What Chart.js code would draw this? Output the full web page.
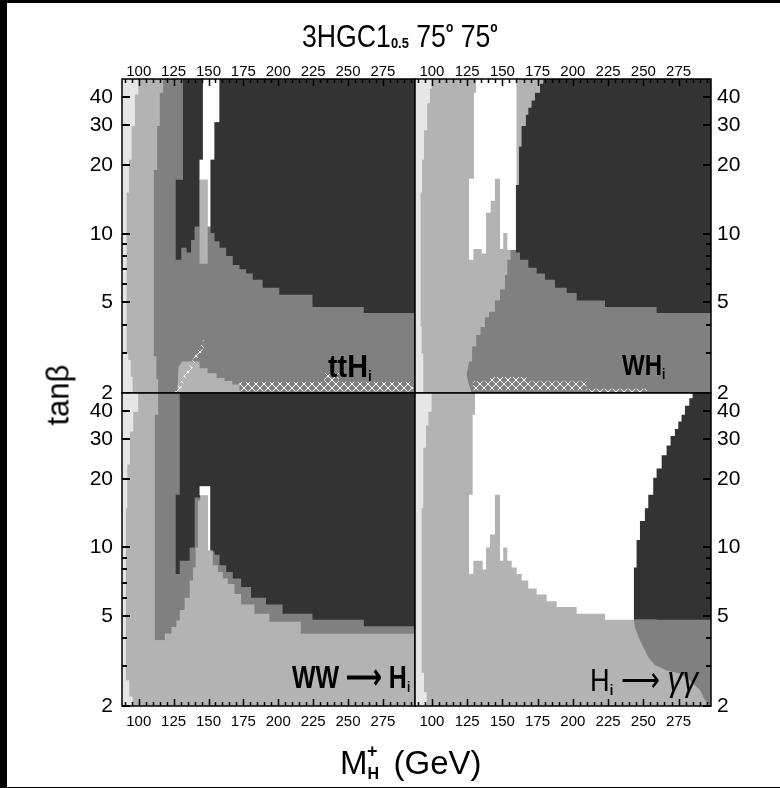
<!DOCTYPE html>
<html>
<head>
<meta charset="utf-8">
<script src="https://cdn.jsdelivr.net/npm/chart.js@4.4.0/dist/chart.umd.min.js"></script>
<style>
  body { margin: 0; background: #000; }
  #page { position: relative; width: 780px; height: 788px; overflow: hidden; background: #000; }
  #sheet { position: absolute; left: 7px; top: 3px; right: 0; height: 784px; background: #fff; }
  canvas { position: absolute; left: 0; top: 0; }
  .lbl { position: absolute; white-space: nowrap; line-height: 1; color: #000;
         font-family: "Liberation Sans", Arial, sans-serif; transform-origin: 0 0; }
  .sb { font-size: 15px; font-weight: bold; position: relative; top: 4px; }
  .deg { font-size: 14px; font-weight: bold; position: relative; top: -15px; }
</style>
</head>
<body>
<div id="page">
  <div id="sheet"></div>
  <canvas id="cTL" width="780" height="788"></canvas>
  <canvas id="cTR" width="780" height="788"></canvas>
  <canvas id="cBL" width="780" height="788"></canvas>
  <canvas id="cBR" width="780" height="788"></canvas>

  <div class="lbl" style="left:302px;top:21px;font-size:31px;transform:scaleX(.86)">3HGC1<span style="font-size:15px;font-weight:bold;position:relative;top:1px">0.5</span> 75<span class="deg">o</span> 75<span class="deg">o</span></div>
  <div class="lbl" style="left:58px;top:395px;font-size:31px;transform-origin:50% 50%;transform:translate(-50%,-50%) rotate(-90deg)">tanβ</div>
  <div class="lbl" style="left:340px;top:746px;font-size:33px">M<span style="font-size:16px;font-weight:bold;position:relative;top:5px">H</span><span style="font-size:18px;font-weight:bold;position:relative;top:-17px;margin-left:-12px">+</span><span style="margin-left:16px">(GeV)</span></div>

  <div class="lbl" style="left:328px;top:350px;font-size:32px;font-weight:bold;transform:scaleX(.9)">ttH<span class="sb">i</span></div>
  <div class="lbl" style="left:622px;top:350px;font-size:30px;font-weight:bold;transform:scaleX(.8)">WH<span class="sb">i</span></div>
  <div class="lbl" style="left:292px;top:661px;font-size:32px;font-weight:bold;transform:scaleX(.78)">WW ⟶ H<span class="sb">i</span></div>
  <div class="lbl" style="left:590px;top:661px;font-size:32px;transform:scaleX(.85)">H<span class="sb">i</span> ⟶ <i style="font-size:36px">γγ</i></div>
</div>

<script>
// axis ranges and tick labels
const massMin = 88, massMax = 298;
const tanbMin = 2, tanbMax = 48;
const massTicks = [100, 125, 150, 175, 200, 225, 250, 275];
const tanbTicks = [2, 5, 10, 20, 30, 40];
const tanbMinorTicks = [3, 4, 6, 7, 8, 9];

// grey levels of the plot
const shade = { light: '#b3b3b3', mid: '#808080', dark: '#333333', white: '#ffffff' };
const paleShade = '#e6e6e6';

// region outlines, points are [M_H+ (GeV), tan beta]
// ttH panel
const ttH_light = [[95.6,1.9],[95.6,2.36],[94.2,2.36],[94.2,2.79],[92.5,2.79],[92.5,2.98],[91.3,2.98],[91.3,15.2],[93,15.2],[93,21.2],[94.9,21.2],[94.9,29.8],[97.3,29.8],[97.3,41],[99.7,41],[99.7,50],[300,50],[300,1.9]];
const ttH_mid = [[113.9,1.9],[113.9,2.3],[112.7,2.3],[112.7,2.9],[110.8,2.9],[110.8,19.1],[113.2,19.1],[113.2,29.8],[115.1,29.8],[115.1,41.8],[117.5,41.8],[117.5,50],[300,50],[300,1.9]];
const ttH_lowLight = [[127.5,1.9],[128.5,2.6],[131,2.75],[143.6,2.75],[143.6,2.57],[149.3,2.57],[149.3,2.44],[155.8,2.44],[155.8,2.33],[161.5,2.33],[161.5,2.26],[167,2.26],[167,2.18],[172.2,2.18],[172.2,1.9]];
const ttH_darkLeft = [[126.5,7.7],[126.5,17.3],[131.7,17.3],[131.7,50],[146,50],[146,21.2],[143.6,21.2],[143.6,10.8],[140,10.8],[140,9.4],[137.5,9.4],[137.5,8.3],[134.3,8.3],[134.3,8.7],[130.5,8.7],[130.5,7.7]];
const ttH_spike = [[143.6,7.4],[143.6,17.3],[149.4,17.3],[149.4,7.4]];
const ttH_white = [[146,50],[157.9,50],[157.9,31],[154.3,31],[154.3,21.2],[151.5,21.2],[151.5,10.8],[149.4,10.8],[149.4,17.3],[143.6,17.3],[143.6,21.2],[146,21.2]];
const ttH_darkRight = [[157.9,50],[157.9,31],[154.3,31],[154.3,21.2],[151.5,21.2],[151.5,10.1],[154.3,10.1],[154.3,9.3],[157.9,9.3],[157.9,8.7],[162.7,8.7],[162.7,8.0],[167.4,8.0],[167.4,7.3],[172.2,7.3],[172.2,7.0],[177,7.0],[177,6.7],[181.7,6.7],[181.7,6.3],[188.8,6.3],[188.8,5.8],[200.7,5.8],[200.7,5.4],[224.5,5.4],[224.5,4.77],[261.3,4.77],[261.3,4.5],[300,4.5],[300,50]];
const ttH_hatch = [[172.2,2.03],[172.2,2.24],[233,2.24],[233,2.44],[243.5,2.44],[243.5,2.24],[296.5,2.24],[296.5,2.03]];
const ttH_hatchDiag = [[126,2.02],[128.5,2.02],[148.2,3.3],[146.5,3.42]];

// WH panel
const WH_light = [[93.9,1.9],[93.9,2.98],[92.7,2.98],[92.7,3.92],[92,3.92],[92,15.2],[93,15.2],[93,21.2],[94.4,21.2],[94.4,28.6],[96.7,28.6],[96.7,37.6],[98.6,37.6],[98.6,43.5],[99.8,43.5],[99.8,50],[300,50],[300,1.9]];
const WH_mid = [[129.4,1.9],[126,2.2],[124.6,2.42],[126.5,2.75],[128.5,2.75],[128.5,3.2],[131.5,3.2],[131.5,3.6],[134.5,3.6],[134.5,3.9],[137.6,3.9],[137.6,4.3],[140.5,4.3],[140.5,4.55],[144.7,4.55],[144.7,5.1],[148.3,5.1],[148.3,5.7],[151.8,5.7],[151.8,6.6],[153.5,6.6],[153.5,7.7],[155.8,7.7],[155.8,8.6],[159.6,8.6],[159.6,12],[300,12],[300,1.9]];
const WH_white = [[131.3,50],[131.3,41.8],[129.8,41.8],[129.8,17.5],[126.3,17.5],[126.3,7.7],[129.4,7.7],[129.4,8.6],[135.3,8.6],[135.3,8.2],[138.4,8.2],[138.4,12.4],[141.7,12.4],[141.7,14],[144.7,14],[144.7,17.5],[148.3,17.5],[148.3,8.6],[150.6,8.6],[150.6,10.1],[153.5,10.1],[153.5,8.5],[160,8.5],[160,50]];
const WH_dark = [[179,50],[179,45.8],[176.7,45.8],[176.7,41.8],[173.1,41.8],[173.1,38.6],[170.7,38.6],[170.7,35.9],[168.4,35.9],[168.4,33.4],[166.7,33.4],[166.7,29.8],[163.6,29.8],[163.6,24.2],[161.8,24.2],[161.8,16.4],[159.6,16.4],[159.6,8.3],[162.5,8.3],[162.5,7.7],[168.4,7.7],[168.4,7.1],[174.3,7.1],[174.3,6.7],[180.2,6.7],[180.2,6.3],[187.3,6.3],[187.3,5.8],[195.6,5.8],[195.6,5.5],[202.7,5.5],[202.7,5.1],[222.8,5.1],[222.8,4.77],[259.4,4.77],[259.4,4.5],[300,4.5],[300,50]];
const WH_hatch = [[129.4,2.05],[129.4,2.25],[141.2,2.25],[141.2,2.35],[167.2,2.35],[167.2,2.25],[209.7,2.25],[209.7,2.05]];
const WH_wave = [[209.7,2.02],[209.7,2.09],[252.5,2.09],[252.5,2.02]];

// WW -> H panel
const WW_light = [[95.6,1.9],[95.6,2.2],[93.2,2.2],[93.2,2.6],[90.8,2.6],[90.8,14.9],[91.8,14.9],[91.8,23.2],[93.7,23.2],[93.7,32.5],[96.1,32.5],[96.1,39.7],[99.6,39.7],[99.6,50],[300,50],[300,1.9]];
const WW_mid = [[113.9,50],[113.9,38.5],[111.5,38.5],[111.5,3.9],[300,3.9],[300,50]];
const WW_dark = [[129.4,50],[129.4,17.1],[126.5,17.1],[126.5,7.64],[129.4,7.64],[129.4,8.75],[136.5,8.75],[136.5,10],[140.1,10],[140.1,16.6],[144.1,16.6],[144.1,18.6],[151.2,18.6],[151.2,9.6],[154.3,9.6],[154.3,9.3],[157.9,9.3],[157.9,8.35],[162.7,8.35],[162.7,7.8],[167.4,7.8],[167.4,7.3],[173.4,7.3],[173.4,6.69],[180.5,6.69],[180.5,6.0],[191.2,6.0],[191.2,5.6],[203.1,5.6],[203.1,5.1],[224.5,5.1],[224.5,4.8],[261.3,4.8],[261.3,4.5],[300,4.5],[300,50]];
const WW_peak = [[110.8,3.8],[110.8,3.9],[118.7,3.9],[118.7,4.17],[123.4,4.17],[123.4,4.46],[127,4.46],[127,4.77],[129.4,4.77],[129.4,5.3],[132.9,5.3],[132.9,6.0],[136.5,6.0],[136.5,7.15],[138.9,7.15],[138.9,8.17],[140.8,8.17],[140.8,10],[142.4,10],[142.4,16.1],[144.1,16.1],[144.1,17.6],[149.6,17.6],[149.6,9.7],[153.1,9.7],[153.1,8.35],[156.7,8.35],[156.7,7.8],[160.3,7.8],[160.3,7.3],[163.8,7.3],[163.8,6.9],[168.6,6.9],[168.6,6.24],[173.4,6.24],[173.4,5.6],[182.9,5.6],[182.9,5.1],[193.6,5.1],[193.6,4.7],[216.1,4.7],[216.1,4.17],[300,4.17],[300,3.8]];
const WW_white = [[143.6,17.0],[143.6,18.6],[151.2,18.6],[151.2,9.7],[149.6,9.7],[149.6,17.0]];

// H -> gamma gamma panel
const Hgg_light = [[96.3,1.9],[96.3,2.3],[94.4,2.3],[94.4,2.8],[92.7,2.8],[92.7,14.9],[93.9,14.9],[93.9,27.5],[95.8,27.5],[95.8,34.5],[97.5,34.5],[97.5,39.7],[99.8,39.7],[99.8,50],[300,50],[300,1.9]];
const Hgg_white = [[130.6,50],[130.6,38.5],[128.9,38.5],[128.9,17.1],[126.3,17.1],[126.3,7.64],[129.4,7.64],[129.4,8.75],[136,8.75],[136,8.0],[138.4,8.0],[138.4,10],[141.2,10],[141.2,11.4],[144.7,11.4],[144.7,17.1],[148.3,17.1],[148.3,8.75],[150.6,8.75],[150.6,10],[153.5,10],[153.5,8.75],[156.6,8.75],[156.6,8.17],[160.1,8.17],[160.1,7.64],[163.7,7.64],[163.7,7.15],[168.4,7.15],[168.4,6.6],[174.3,6.6],[174.3,6.2],[181.4,6.2],[181.4,5.8],[188.5,5.8],[188.5,5.46],[202.7,5.46],[202.7,5.1],[222.8,5.1],[222.8,4.8],[300,4.8],[300,50]];
const Hgg_dark = [[284.9,50],[284.9,45.5],[282.6,45.5],[282.6,42.2],[279.5,42.2],[279.5,38.5],[277.1,38.5],[277.1,35.9],[274.8,35.9],[274.8,33.3],[272.4,33.3],[272.4,31],[269.3,31],[269.3,28.2],[266.5,28.2],[266.5,25.5],[263,25.5],[263,22.3],[259.4,22.3],[259.4,20.3],[257,20.3],[257,17.1],[253.5,17.1],[253.5,14.9],[251.1,14.9],[251.1,13.1],[247.6,13.1],[247.6,10.8],[245.2,10.8],[245.2,8.17],[243.3,8.17],[243.3,4.8],[259.4,4.8],[259.4,4.46],[300,4.46],[300,50]];
const Hgg_mid = [[243.3,4.8],[244,4.46],[246.4,4.05],[249.9,3.64],[253.5,3.28],[258.2,3.03],[266.5,2.87],[276,2.78],[283,2.6],[290.1,2.35],[293.7,2.12],[298,2.0],[300,1.9],[300,4.8]];

const panels = [
  { id: 'cTL', area: [122, 79, 415, 393], xSide: 'top', ySide: 'left',
    layers: [[ttH_light, 'light'], [ttH_mid, 'mid'], [ttH_lowLight, 'light'], [ttH_darkLeft, 'dark'], [ttH_spike, 'light'],
             [ttH_white, 'white'], [ttH_darkRight, 'dark'], [ttH_hatch, 'hatch'], [ttH_hatchDiag, 'hatch']] },
  { id: 'cTR', area: [415, 79, 711, 393], xSide: 'top', ySide: 'right',
    layers: [[WH_light, 'light'], [WH_mid, 'mid'], [WH_white, 'white'], [WH_dark, 'dark'], [WH_hatch, 'hatch'], [WH_wave, 'hatch']] },
  { id: 'cBL', area: [122, 393, 415, 706], xSide: 'bottom', ySide: 'left',
    layers: [[WW_light, 'light'], [WW_mid, 'mid'], [WW_dark, 'dark'], [WW_peak, 'light'], [WW_white, 'white']] },
  { id: 'cBR', area: [415, 393, 711, 706], xSide: 'bottom', ySide: 'right',
    layers: [[Hgg_light, 'light'], [Hgg_white, 'white'], [Hgg_dark, 'dark'], [Hgg_mid, 'mid']] }
];

const fontFamily = '"Liberation Sans", Arial, sans-serif';
const X_AXIS_H = 22, Y_AXIS_W = 44;

// white diamond lattice laid over the grey
function makeHatch(ctx) {
  const c = document.createElement('canvas');
  c.width = c.height = 8;
  const g = c.getContext('2d');
  g.strokeStyle = '#ffffff';
  g.lineWidth = 1;
  g.beginPath();
  g.moveTo(0, 0); g.lineTo(8, 8);
  g.moveTo(8, 0); g.lineTo(0, 8);
  g.stroke();
  return ctx.createPattern(c, 'repeat');
}

// pale background of each panel
const panelBg = {
  id: 'panelBg',
  beforeDatasetsDraw(chart) {
    const { ctx, chartArea: a } = chart;
    ctx.save();
    ctx.fillStyle = paleShade;
    ctx.fillRect(a.left, a.top, a.right - a.left, a.bottom - a.top);
    ctx.restore();
  }
};

// frame and inward tick marks
const frame = {
  id: 'frame',
  afterDatasetsDraw(chart, args, opts) {
    const { ctx, chartArea: a } = chart;
    const xs = chart.scales.x, ys = chart.scales.y;
    const xTop = opts.xSide === 'top', yLeft = opts.ySide === 'left';
    ctx.save();
    ctx.strokeStyle = '#000';
    ctx.lineWidth = 1.5;
    ctx.beginPath();
    for (let m = 90; m < massMax; m += 5) {
      const px = Math.round(xs.getPixelForValue(m)) + 0.5;
      const len = m % 25 === 0 ? 7 : 4;
      const y0 = xTop ? a.top : a.bottom;
      ctx.moveTo(px, y0);
      ctx.lineTo(px, y0 + (xTop ? len : -len));
    }
    ctx.stroke();
    ctx.lineWidth = 2;
    ctx.beginPath();
    tanbTicks.concat(tanbMinorTicks).forEach(t => {
      const py = Math.round(ys.getPixelForValue(t));
      const len = tanbTicks.includes(t) ? 8 : 5;
      const x0 = yLeft ? a.left : a.right;
      ctx.moveTo(x0, py);
      ctx.lineTo(x0 + (yLeft ? len : -len), py);
    });
    ctx.stroke();
    ctx.lineWidth = 1.5;
    ctx.strokeRect(a.left, a.top, a.right - a.left, a.bottom - a.top);
    ctx.restore();
  }
};

panels.forEach(p => {
  const canvas = document.getElementById(p.id);
  const ctx = canvas.getContext('2d');
  const hatch = makeHatch(ctx);
  const [l, t, r, b] = p.area;

  const datasets = p.layers.map(([pts, tone], i) => ({
    data: pts,
    showLine: true,
    fill: 'shape',
    backgroundColor: tone === 'hatch' ? hatch : shade[tone],
    borderWidth: 0,
    pointRadius: 0,
    pointHoverRadius: 0,
    order: -i
  }));

  new Chart(ctx, {
    type: 'scatter',
    data: { datasets },
    plugins: [panelBg, frame],
    options: {
      responsive: false,
      animation: false,
      devicePixelRatio: 1,
      events: [],
      layout: {
        padding: {
          left: l - (p.ySide === 'left' ? Y_AXIS_W : 0),
          right: 780 - r - (p.ySide === 'right' ? Y_AXIS_W : 0),
          top: t - (p.xSide === 'top' ? X_AXIS_H : 0),
          bottom: 788 - b - (p.xSide === 'bottom' ? X_AXIS_H : 0)
        }
      },
      plugins: {
        legend: { display: false },
        tooltip: { enabled: false },
        frame: { xSide: p.xSide, ySide: p.ySide }
      },
      scales: {
        x: {
          type: 'linear',
          position: p.xSide,
          min: massMin,
          max: massMax,
          afterBuildTicks: s => { s.ticks = massTicks.map(v => ({ value: v })); },
          afterFit: s => { s.height = X_AXIS_H; },
          grid: { display: false, drawTicks: false },
          border: { display: false },
          ticks: {
            autoSkip: false, maxRotation: 0, color: '#000',
            padding: p.xSide === 'top' ? 0 : 8,
            font: { family: fontFamily, size: 15, lineHeight: 1 },
            callback: v => String(v)
          }
        },
        y: {
          type: 'logarithmic',
          position: p.ySide,
          min: tanbMin,
          max: tanbMax,
          afterBuildTicks: s => { s.ticks = tanbTicks.map(v => ({ value: v })); },
          afterFit: s => { s.width = Y_AXIS_W; },
          grid: { display: false, drawTicks: false },
          border: { display: false },
          ticks: {
            autoSkip: false, color: '#000',
            padding: p.ySide === 'left' ? 9 : 6,
            font: { family: fontFamily, size: 21, lineHeight: 1 },
            callback: v => String(v)
          }
        }
      }
    }
  });
});
</script>
</body>
</html>
